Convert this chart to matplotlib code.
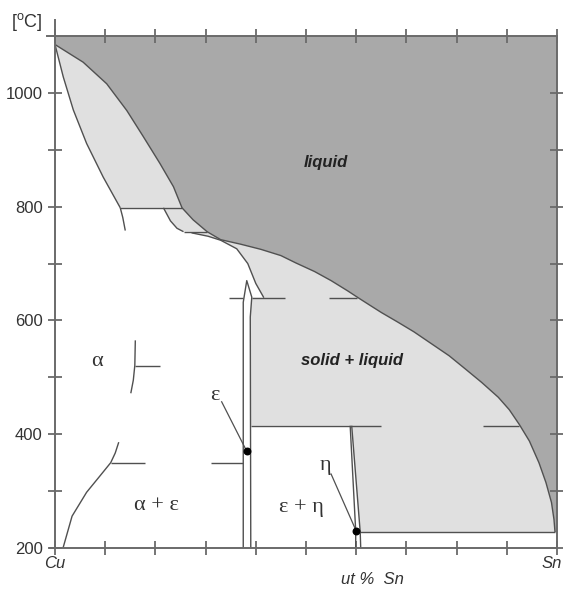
import matplotlib
matplotlib.use("Agg")
import matplotlib.pyplot as plt

plt.rcParams['font.family'] = ['Liberation Sans', 'DejaVu Sans']
plt.rcParams['mathtext.fontset'] = 'custom'
plt.rcParams['mathtext.rm'] = 'Liberation Sans'

# Cu-Sn phase diagram, x = wt % Sn, y = temperature [C]
liq_wt = [0, 5.6, 10.3, 14.3, 17.6, 20.9, 23.6, 25.3, 27.5, 30.3, 33.0, 37.0, 41.0, 45.0,
          48.0, 51.7, 55.0, 58.3, 60.2, 62.5, 65.0, 68.3, 71.5, 75.0, 78.5, 81.7, 85.0,
          88.3, 90.5, 92.5, 94.5, 96.4, 97.8, 98.9, 99.4, 99.6]
liq_T = [1085, 1054, 1016, 969, 923, 876, 835, 798, 777, 756, 742, 734, 725, 714,
         701, 686, 670, 652, 641, 628, 614, 597, 580, 559, 538, 515, 491,
         465, 443, 417, 388, 350, 315, 280, 250, 228]

sol_wt = [0, 1.65, 3.65, 6.3, 9.6, 13.0]
sol_T = [1085, 1028, 970, 911, 852, 798]

solvus_wt = [13.0, 13.5, 14.0]
solvus_T = [798, 781, 758]

beta_wt = [21.6, 25.3, 27.5, 30.3, 25.6, 24.3, 23.0]
beta_T = [798, 798, 777, 756, 756, 762, 775]

gamma_wt = [27.2, 30.5, 33.0, 36.2, 38.4, 40.0, 41.6]
gamma_T = [754, 748, 741, 726, 700, 665, 640]

eps_left_wt = [37.5, 37.5, 38.2]
eps_left_T = [200, 632, 670]
eps_right_wt = [38.2, 39.2, 38.9, 39.0]
eps_right_T = [670, 641, 606, 200]

eta_left_wt = [58.8, 59.9, 59.9]
eta_left_T = [415, 230, 200]
eta_right_wt = [59.1, 60.8, 60.9]
eta_right_T = [415, 228, 200]

alpha_up_wt = [16.0, 15.9, 15.6, 15.1]
alpha_up_T = [565, 521, 495, 472]
alpha_low_wt = [1.6, 3.4, 6.3, 8.8, 11.1, 12.0, 12.7]
alpha_low_T = [200, 256, 298, 325, 350, 367, 386]

# isotherm segments: (T, wt start, wt end)
isotherms = [(798, 13.0, 25.3), (756, 25.6, 30.3),
             (640, 34.7, 37.5), (640, 39.2, 45.8), (640, 54.6, 60.2),
             (520, 15.9, 20.9), (350, 11.1, 18.0), (350, 31.0, 37.5),
             (415, 39.0, 65.0), (415, 85.3, 92.5), (228, 60.8, 99.6)]

dots_wt = [38.2, 60.0]
dots_T = [370, 230]

y_major = [200, 400, 600, 800, 1000]
y_minor = [300, 500, 700, 900]
x_ticks = list(range(0, 101, 10))

dark = '#a9a9a9'
light = '#e0e0e0'
edge = '#505050'
frame = '#6a6a6a'

fig = plt.figure(figsize=(5.63, 5.91), dpi=100)
ax = fig.add_axes([55 / 563, 1 - 548 / 591, 502 / 563, 512 / 591])
ax.set_xlim(0, 100)
ax.set_ylim(200, 1100)

# liquid region
lx = [0, 100, 100] + liq_wt[::-1]
ly = [1100, 1100, 228] + liq_T[::-1]
ax.fill(lx, ly, color=dark, lw=0, zorder=1)

# alpha + L
ax.fill(sol_wt + liq_wt[:8][::-1], sol_T + liq_T[:8][::-1], color=light, lw=0, zorder=1)
# beta + L
ax.fill(beta_wt, beta_T, color=light, lw=0, zorder=1)
# solid + liquid, big region
i33 = liq_wt.index(33.0)
gx = [27.2, 30.3] + liq_wt[i33:] + [eta_right_wt[1], eta_right_wt[0], 39.0,
                                      eps_right_wt[2], eps_right_wt[1]] + gamma_wt[::-1][:-1]
gy = [754, 756] + liq_T[i33:] + [eta_right_T[1], eta_right_T[0], 415,
                                   eps_right_T[2], 640] + gamma_T[::-1][:-1]
ax.fill(gx, gy, color=light, lw=0, zorder=1)

kw = dict(color=edge, lw=1.0, zorder=3, solid_capstyle='butt', solid_joinstyle='round')
ax.plot(liq_wt, liq_T, **kw)
ax.plot(sol_wt, sol_T, **kw)
ax.plot(solvus_wt, solvus_T, **kw)
ax.plot(beta_wt[:1] + beta_wt[4:][::-1] + [25.6], beta_T[:1] + beta_T[4:][::-1] + [756], **kw)
ax.plot(gamma_wt, gamma_T, **kw)
ax.plot(eps_left_wt + eps_right_wt, eps_left_T + eps_right_T, **kw)
ax.plot(eta_left_wt, eta_left_T, **kw)
ax.plot(eta_right_wt, eta_right_T, **kw)
ax.plot(alpha_up_wt, alpha_up_T, **kw)
ax.plot(alpha_low_wt, alpha_low_T, **kw)
for t, a, b in isotherms:
    ax.plot([a, b], [t, t], **kw)

# leaders and points
ax.plot([33.2, dots_wt[0]], [457, dots_T[0]], color=edge, lw=0.9, zorder=3)
ax.plot([55.0, dots_wt[1]], [330, dots_T[1]], color=edge, lw=0.9, zorder=3)
ax.scatter(dots_wt, dots_T, s=22, color='black', zorder=5)

# frame drawn by hand so it can overshoot like the original
fkw = dict(color=frame, lw=1.4, clip_on=False, zorder=6)
ax.plot([0, 0], [200, 1128], **fkw)
ax.plot([-1.6, 100], [1100, 1100], **fkw)
ax.plot([-1.0, 100], [200, 200], **fkw)
ax.plot([100, 100], [200, 1100], **fkw)
for s in ax.spines.values():
    s.set_visible(False)

ax.set_xticks(x_ticks)
ax.set_xticklabels([])
ax.set_yticks(y_major)
ax.set_yticks(y_minor, minor=True)
ax.set_yticklabels([str(v) for v in y_major], fontsize=12, color='#333333')
ax.tick_params(axis='both', which='both', direction='inout', length=10, width=1.3,
               color=frame, top=True, right=True, pad=4)

serif = ['Liberation Serif', 'DejaVu Serif']
ax.text(54, 878, 'liquid', fontsize=12, fontweight='bold', fontstyle='italic',
        ha='center', va='center', color='#222222', zorder=7)
ax.text(59.2, 530, 'solid + liquid', fontsize=12, fontweight='bold', fontstyle='italic',
        ha='center', va='center', color='#222222', zorder=7)
ax.text(8.3, 527, 'α', family=serif, fontsize=16, ha='center', va='center', color='#333333')
ax.text(20.2, 274, 'α + ε', family=serif, fontsize=16, ha='center', va='center', color='#333333')
ax.text(49.1, 272, 'ε + η', family=serif, fontsize=16, ha='center', va='center', color='#333333')
ax.text(31.9, 468, 'ε', family=serif, fontsize=16, ha='center', va='center', color='#333333')
ax.text(53.8, 345, 'η', family=serif, fontsize=16, ha='center', va='center', color='#333333')

fig.text(27 / 563, 1 - 22 / 591, r'[$^{\mathrm{o}}$C]', fontsize=13, ha='center', va='center', color='#333333')
fig.text(55 / 563, 1 - 563 / 591, 'Cu', fontsize=12, fontstyle='italic', ha='center', va='center', color='#333333')
fig.text(552 / 563, 1 - 563 / 591, 'Sn', fontsize=12, fontstyle='italic', ha='center', va='center', color='#333333')
fig.text(372 / 563, 1 - 580 / 591, 'ut %  Sn', fontsize=12, fontstyle='italic', ha='center', va='center', color='#333333')

fig.savefig('out.png', dpi=100)
